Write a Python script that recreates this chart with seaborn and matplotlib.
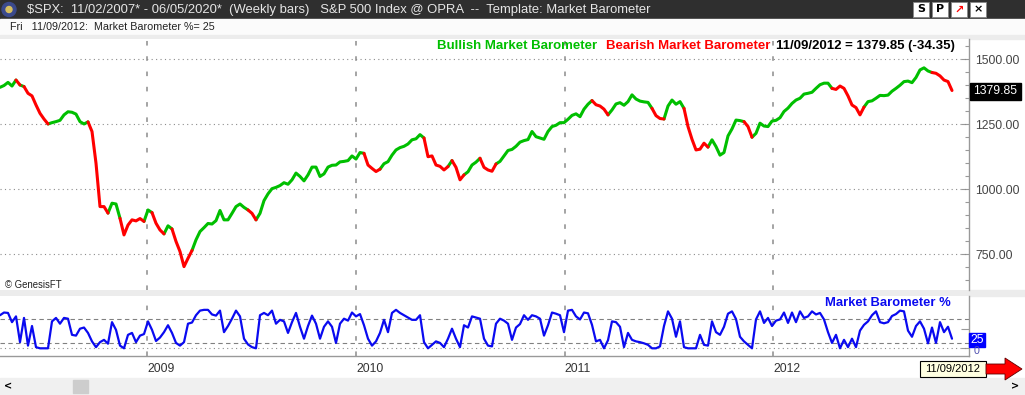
import numpy as np
import pandas as pd
import matplotlib
matplotlib.use("Agg")
import matplotlib.pyplot as plt
from matplotlib.patches import Rectangle, Polygon, Circle
from matplotlib.ticker import MultipleLocator
from matplotlib import font_manager
import seaborn as sns

# weekly closes of $SPX, 18 Apr 2008 .. 09 Nov 2012
spx_close = [
    1392, 1399, 1411, 1397, 1420, 1401, 1395, 1369, 1359, 1324,
    1292, 1270, 1251, 1256, 1260, 1265, 1286, 1298, 1296, 1289,
    1260, 1251, 1259, 1222, 1100, 933, 933, 908, 946, 943,
    888, 824, 862, 882, 878, 887, 876, 920, 910, 869,
    843, 828, 859, 847, 799, 760, 702, 734, 764, 805,
    837, 852, 868, 866, 879, 918, 882, 882, 907, 933,
    943, 930, 920, 907, 882, 907, 956, 982, 1002, 1007,
    1014, 1025, 1019, 1036, 1062, 1049, 1032, 1055, 1085, 1085,
    1049, 1059, 1085, 1092, 1093, 1105, 1107, 1110, 1128, 1116,
    1141, 1138, 1093, 1080, 1068, 1077, 1098, 1106, 1131, 1151,
    1160, 1165, 1174, 1190, 1194, 1210, 1197, 1125, 1128, 1093,
    1088, 1074, 1087, 1110, 1084, 1036, 1055, 1067, 1093, 1104,
    1119, 1084, 1074, 1069, 1097, 1107, 1128, 1149, 1153, 1165,
    1181, 1187, 1191, 1222, 1202, 1197, 1192, 1222, 1241, 1246,
    1256, 1256, 1269, 1284, 1290, 1279, 1308, 1327, 1341, 1325,
    1320, 1308, 1286, 1305, 1328, 1333, 1323, 1337, 1363, 1347,
    1339, 1336, 1334, 1311, 1283, 1272, 1270, 1320, 1343, 1327,
    1337, 1311, 1241, 1192, 1151, 1154, 1177, 1162, 1190, 1164,
    1131, 1141, 1205, 1232, 1266, 1264, 1260, 1241, 1200, 1215,
    1254, 1243, 1241, 1262, 1265, 1275, 1299, 1312, 1330, 1343,
    1350, 1366, 1369, 1373, 1388, 1402, 1408, 1408, 1388, 1384,
    1397, 1388, 1359, 1324, 1314, 1286, 1316, 1337, 1340, 1350,
    1361, 1360, 1362, 1377, 1388, 1400, 1414, 1416, 1410, 1430,
    1459, 1467, 1455, 1449, 1446, 1436, 1420, 1414.2, 1379.85,
]

# Market Barometer % per week
barometer = [
    86, 93, 92, 68, 83, 16, 79, 7, 58, 3,
    0, 0, 0, 70, 79, 64, 79, 77, 35, 33,
    51, 54, 40, 18, 3, 16, 22, 12, 68, 48,
    7, 0, 35, 40, 16, 33, 37, 70, 48, 19,
    28, 42, 60, 40, 14, 7, 16, 64, 67, 86,
    98, 100, 100, 88, 85, 98, 42, 58, 77, 98,
    83, 25, 10, 3, 0, 86, 92, 86, 98, 64,
    74, 70, 40, 68, 92, 56, 25, 58, 85, 64,
    25, 56, 70, 56, 14, 64, 77, 72, 93, 83,
    89, 60, 25, 7, 18, 40, 74, 42, 92, 100,
    92, 86, 80, 74, 74, 86, 16, 0, 9, 18,
    14, 3, 25, 51, 25, 3, 60, 54, 83, 80,
    77, 25, 7, 5, 64, 77, 72, 64, 22, 54,
    63, 86, 74, 86, 83, 77, 33, 60, 93, 90,
    86, 42, 98, 100, 83, 75, 93, 91, 61, 18,
    22, 0, 21, 70, 68, 56, 3, 40, 22, 18,
    16, 13, 9, 0, 0, 5, 58, 96, 77, 30,
    70, 3, 0, 0, 0, 35, 9, 7, 70, 42,
    35, 56, 90, 96, 76, 30, 18, 9, 0, 75,
    96, 66, 79, 58, 72, 75, 93, 66, 93, 68,
    96, 79, 83, 96, 88, 92, 75, 42, 14, 35,
    0, 22, 3, 25, 3, 46, 61, 70, 86, 96,
    68, 65, 68, 84, 89, 98, 96, 46, 30, 58,
    70, 51, 13, 54, 14, 68, 42, 56, 25,
]

# week ranges (start, end) where the price line is drawn red (bearish)
bear_runs = [(4, 5), (6, 12), (22, 27), (30, 36), (38, 41), (43, 48), (62, 64),
             (91, 95), (106, 112), (113, 116), (120, 124), (148, 152),
             (163, 166), (171, 177), (186, 188), (208, 216), (233, 238)]

price_ticks = [750, 1000, 1250, 1500]
year_labels = ["2009", "2010", "2011", "2012"]
last_date = "2012-11-09"

GREEN = "#00bf00"
RED = "#ff0000"
BLUE = "#0a0af0"
GRID = "#8c8c8c"

sns.set_theme(style="white")
names = {f.name for f in font_manager.fontManager.ttflist}
NARROW = "Liberation Sans Narrow" if "Liberation Sans Narrow" in names else None
plt.rcParams["font.family"] = ["Liberation Sans", "DejaVu Sans"]


def nf(px, bold=False, k=0.82):
    # narrow font like the original; fall back to a smaller regular font
    w = "bold" if bold else "normal"
    if NARROW:
        return dict(family=NARROW, fontsize=px * 0.72, fontweight=w)
    return dict(family="Liberation Sans", fontsize=px * 0.72 * k, fontweight=w)


W, H = 1025, 395


def fbox(x0, y0, x1, y1):
    return [x0 / W, 1 - y1 / H, (x1 - x0) / W, (y1 - y0) / H]


dates = pd.date_range(end=last_date, periods=len(spx_close), freq="W-FRI")
xlim = (dates[0], dates[0] + pd.Timedelta(days=7 * 242.25))
year_dates = [pd.Timestamp(y + "-01-01") for y in year_labels]

# segments for the two-colour price line
bear = np.zeros(len(spx_close) - 1, dtype=bool)
for a, b in bear_runs:
    bear[a:b] = True
rows = []
start = 0
for k in range(1, len(bear) + 1):
    if k == len(bear) or bear[k] != bear[start]:
        regime = "bear" if bear[start] else "bull"
        for j in range(start, k + 1):
            rows.append({"date": dates[j], "close": spx_close[j], "regime": regime, "seg": start})
        start = k
seg_df = pd.DataFrame(rows)
baro_df = pd.DataFrame({"date": dates, "pct": barometer})

fig = plt.figure(figsize=(W / 100, H / 100), dpi=100)
fig.patch.set_facecolor("white")

# background decorations
bg = fig.add_axes([0, 0, 1, 1], zorder=0)
bg.set_xlim(0, W)
bg.set_ylim(H, 0)
bg.axis("off")
bg.add_patch(Rectangle((0, 0), W, 19, color="#2f2f2f"))
bg.add_patch(Rectangle((0, 19), W, 17, color="#fbfbfb"))
bg.add_patch(Rectangle((0, 35), W, 4, color="#ececec"))
bg.add_patch(Rectangle((0, 290), W, 6, color="#ececec"))
bg.add_patch(Rectangle((0, 378), W, 17, color="#f0f0f0"))
bg.add_patch(Rectangle((73, 380), 15, 13, color="#cdcdcd"))

# price panel
ax = fig.add_axes(fbox(0, 39, 969, 290), zorder=2)
ax.set_facecolor("white")
for yv in price_ticks:
    ax.axhline(yv, color=GRID, lw=0.8, ls=(0, (1, 3)), zorder=1)
for d in year_dates:
    ax.axvline(d, color=GRID, lw=1.1, ls=(0, (3, 7)), zorder=1)
sns.lineplot(data=seg_df, x="date", y="close", hue="regime", units="seg",
             estimator=None, sort=False, palette={"bull": GREEN, "bear": RED},
             linewidth=2.2, legend=False, ax=ax, zorder=3)
ax.set_xlim(*xlim)
ax.set_ylim(612, 1578)
ax.set_xticks([])
ax.set_xlabel("")
ax.set_ylabel("")
ax.yaxis.tick_right()
ax.set_yticks(price_ticks)
ax.set_yticklabels([f"{v:.2f}" for v in price_ticks])
ax.yaxis.set_minor_locator(MultipleLocator(50))
ax.tick_params(axis="y", which="major", direction="in", length=6, width=0.8,
               color="#999999", labelcolor="#444444", pad=4.3)
ax.tick_params(axis="y", which="minor", direction="in", length=3, width=0.8, color="#999999")
for lab in ax.get_yticklabels():
    lab.set(**nf(15))
for s in ["top", "left", "bottom"]:
    ax.spines[s].set_visible(False)
ax.spines["right"].set_color("#999999")
ax.spines["right"].set_linewidth(1)

# barometer panel
ax2 = fig.add_axes(fbox(0, 296, 969, 356), zorder=2)
ax2.set_facecolor("white")
ax2.axhline(75, color="#808080", lw=0.8, ls=(0, (4, 3)), zorder=1)
ax2.axhline(15, color="#808080", lw=0.8, ls=(0, (4, 3)), zorder=1)
ax2.axhline(0, color=GRID, lw=0.8, ls=(0, (1, 3)), zorder=1)
for d in year_dates:
    ax2.axvline(d, color=GRID, lw=1.1, ls=(0, (3, 7)), zorder=1)
sns.lineplot(data=baro_df, x="date", y="pct", color=BLUE, linewidth=1.6, ax=ax2, zorder=3)
ax2.set_xlim(*xlim)
ax2.set_ylim(-20, 136)
ax2.set_xlabel("")
ax2.set_ylabel("")
ax2.yaxis.tick_right()
ax2.set_yticks([0, 50])
ax2.set_yticklabels(["", ""])
ax2.tick_params(axis="y", direction="in", length=6, width=0.8, color="#999999")
ax2.set_xticks(year_dates)
ax2.set_xticklabels(year_labels)
ax2.tick_params(axis="x", length=0, pad=5, labelcolor="#333333")
for lab in ax2.get_xticklabels():
    lab.set(**nf(15))
    lab.set_horizontalalignment("left")
for s in ["top", "left"]:
    ax2.spines[s].set_visible(False)
for s in ["right", "bottom"]:
    ax2.spines[s].set_color("#999999")
    ax2.spines[s].set_linewidth(1)

# texts and badges on top
fg = fig.add_axes([0, 0, 1, 1], zorder=10)
fg.set_xlim(0, W)
fg.set_ylim(H, 0)
fg.axis("off")
fg.patch.set_alpha(0)

fg.add_patch(Circle((9, 9.5), 7, color="#3b4a8c"))
fg.add_patch(Circle((9, 9.5), 3, color="#d8c060"))
fg.text(27, 9.5, "$SPX:  11/02/2007* - 06/05/2020*  (Weekly bars)   S&P 500 Index @ OPRA  --  Template: Market Barometer",
        va="center", ha="left", color="#e6e6e6", **nf(14, k=0.93))
for n, ch in enumerate(["S", "P", "\u2197", "\u00d7"]):
    x = 913 + n * 19
    fg.add_patch(Rectangle((x, 2), 16, 15, facecolor="white", edgecolor="#888888", lw=0.6))
    fg.text(x + 8, 9.5, ch, ha="center", va="center",
            color=RED if n == 2 else "black", family="DejaVu Sans", fontsize=8, fontweight="bold")
fg.text(10, 27.5, "Fri   11/09/2012:  Market Barometer %= 25", va="center", ha="left",
        color="#222222", **nf(12, k=0.9))

fg.text(437, 46, "Bullish Market Barometer", va="center", ha="left", color=GREEN, **nf(14.5, True, 0.91))
fg.text(606, 46, "Bearish Market Barometer", va="center", ha="left", color=RED, **nf(14.5, True, 0.91))
fg.text(776, 46, "11/09/2012 = 1379.85 (-34.35)", va="center", ha="left", color="black",
        **nf(14.5, True, 0.91))
fg.text(5, 285, "\u00a9 GenesisFT", va="center", ha="left", color="#222222", **nf(11, k=0.88))
fg.text(825, 303, "Market Barometer %", va="center", ha="left", color=BLUE, **nf(14.5, True, 0.9))

fg.add_patch(Rectangle((970, 83), 51, 17, color="black"))
fg.text(995.5, 91.5, "1379.85", ha="center", va="center", color="white", **nf(15))
fg.add_patch(Rectangle((969, 333), 16, 14, color="#0000ff"))
fg.text(977, 340, "25", ha="center", va="center", color="white", **nf(15))
fg.text(977, 351, "0", ha="center", va="center", color="#5050b0", **nf(13))

fg.add_patch(Rectangle((920, 361), 66, 16, facecolor="#ffffe1", edgecolor="black", lw=0.8))
fg.text(953, 369, "11/09/2012", ha="center", va="center", color="black", **nf(13.5))
fg.add_patch(Polygon([(986, 364), (1005, 364), (1005, 358), (1022, 369), (1005, 380),
                      (1005, 374), (986, 374)], closed=True, facecolor=RED, edgecolor="#600000", lw=0.6))
fg.text(8, 386.5, "<", ha="center", va="center", color="black", family="DejaVu Sans", fontsize=7, fontweight="bold")
fg.text(1015, 386.5, ">", ha="center", va="center", color="black", family="DejaVu Sans", fontsize=7, fontweight="bold")

fig.savefig("out.png", dpi=100)
